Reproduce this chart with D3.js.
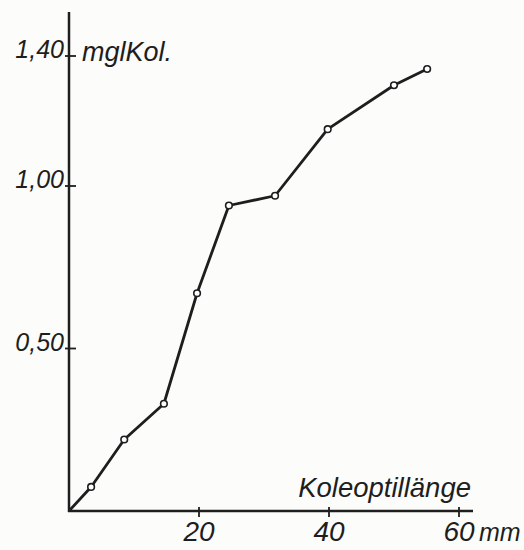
<!DOCTYPE html>
<html>
<head>
<meta charset="utf-8">
<script src="https://cdn.jsdelivr.net/npm/d3@7"></script>
<style>
  body { margin: 0; background: #fcfcfb; }
  text { font-family: "Liberation Sans", sans-serif; font-style: italic; fill: #1e1e1e; }
</style>
</head>
<body>
<div id="chart"></div>
<script>
// coleoptile length (mm) vs. mg per coleoptile
var lengths = [0, 3.4, 8.5, 14.6, 19.7, 24.6, 31.7, 39.8, 50.0, 55.1];
var values  = [0, 0.074, 0.22, 0.33, 0.67, 0.94, 0.97, 1.175, 1.31, 1.36];
var xTicks = [20, 40, 60];
var yTicks = [0.5, 1.0, 1.4];
var yTickLabels = ["0,50", "1,00", "1,40"];

var width = 524, height = 550;

var svg = d3.select('#chart')
    .append('svg')
    .attr('width', width)
    .attr('height', height);

var x = d3.scaleLinear().domain([0, 60]).range([69, 459]);
var y = d3.scaleLinear().domain([0, 1.4]).range([511, 56]);

var ink = '#1e1e1e';

// axes
svg.append('line')
    .attr('x1', x(0)).attr('x2', x(0))
    .attr('y1', 12).attr('y2', y(0) + 1)
    .attr('stroke', ink).attr('stroke-width', 2.5);

svg.append('line')
    .attr('x1', x(0) - 1).attr('x2', 473)
    .attr('y1', y(0)).attr('y2', y(0))
    .attr('stroke', ink).attr('stroke-width', 2.5);

// y ticks
svg.selectAll('.ytick')
    .data(yTicks)
    .enter()
    .append('line')
    .attr('x1', x(0) - 4).attr('x2', x(0) + 7)
    .attr('y1', function (d) { return y(d); })
    .attr('y2', function (d) { return y(d); })
    .attr('stroke', ink).attr('stroke-width', 1.8);

svg.selectAll('.ylabel')
    .data(yTicks)
    .enter()
    .append('text')
    .attr('x', x(0) - 5)
    .attr('y', function (d) { return y(d) + 2; })
    .attr('text-anchor', 'end')
    .style('font-size', '25px')
    .text(function (d, i) { return yTickLabels[i]; });

// x ticks
svg.selectAll('.xtick')
    .data(xTicks)
    .enter()
    .append('line')
    .attr('x1', function (d) { return x(d); })
    .attr('x2', function (d) { return x(d); })
    .attr('y1', y(0) - 4).attr('y2', y(0) + 6)
    .attr('stroke', ink).attr('stroke-width', 1.8);

svg.selectAll('.xlabel')
    .data(xTicks)
    .enter()
    .append('text')
    .attr('x', function (d) { return x(d); })
    .attr('y', 541)
    .attr('text-anchor', 'middle')
    .style('font-size', '28px')
    .text(function (d) { return d; });

svg.append('text')
    .attr('x', x(60) + 20)
    .attr('y', 541)
    .style('font-size', '25px')
    .text('mm');

svg.append('text')
    .attr('x', 82)
    .attr('y', y(1.4) + 5)
    .style('font-size', '27px')
    .text('mglKol.');

svg.append('text')
    .attr('x', 471)
    .attr('y', 497)
    .attr('text-anchor', 'end')
    .style('font-size', '27.5px')
    .text('Koleoptillänge');

// curve
var pts = lengths.map(function (d, i) { return [d, values[i]]; });

svg.append('path')
    .datum(pts)
    .attr('d', d3.line()
        .x(function (d) { return x(d[0]); })
        .y(function (d) { return y(d[1]); }))
    .attr('fill', 'none')
    .attr('stroke', ink)
    .attr('stroke-width', 2.8)
    .attr('stroke-linejoin', 'round');

svg.selectAll('circle')
    .data(pts.slice(1))
    .enter()
    .append('circle')
    .attr('cx', function (d) { return x(d[0]); })
    .attr('cy', function (d) { return y(d[1]); })
    .attr('r', 3.3)
    .attr('fill', '#fff')
    .attr('stroke', ink)
    .attr('stroke-width', 1.6);
</script>
</body>
</html>
